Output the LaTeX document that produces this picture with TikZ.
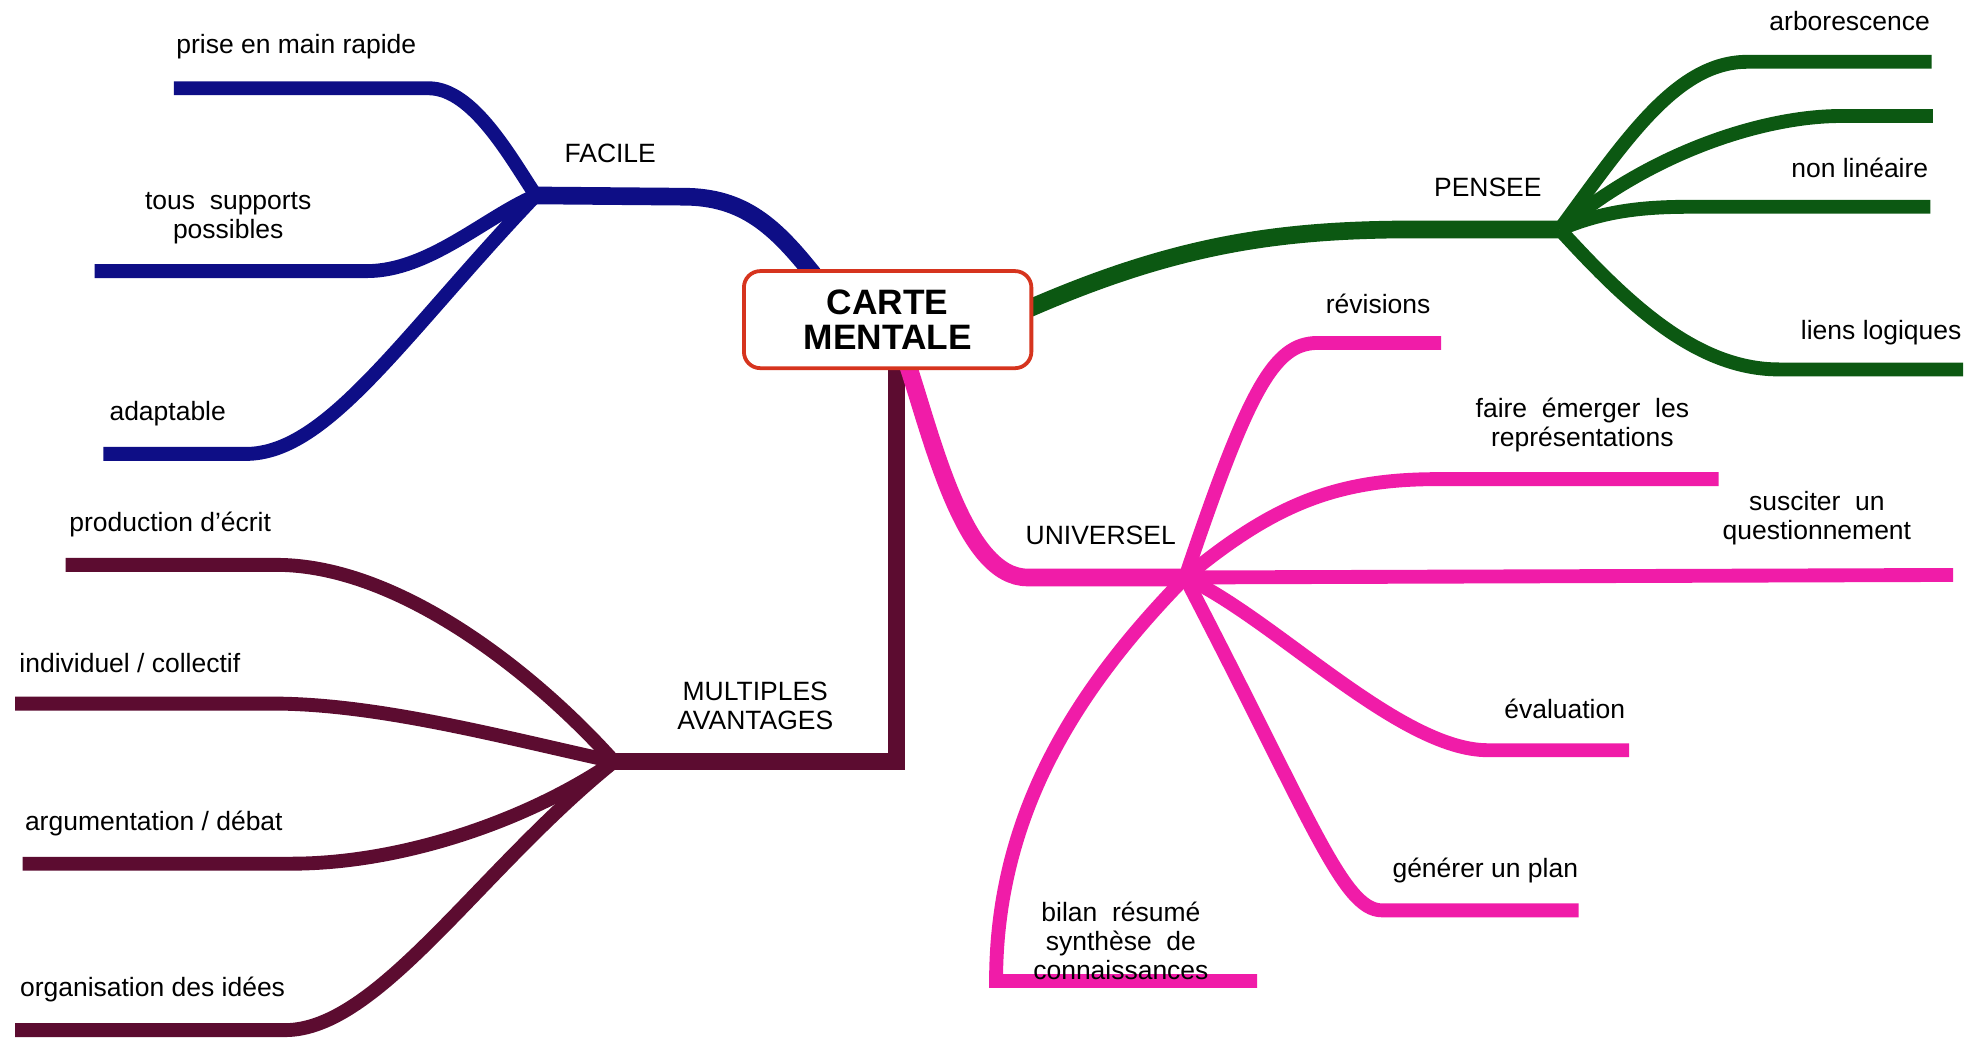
\documentclass[tikz,border=0pt]{standalone}
\usepackage{fontspec}
\setmainfont{Liberation Sans}
\usetikzlibrary{backgrounds,calc}
\definecolor{cnavy}{RGB}{14,14,134}
\definecolor{cgreen}{RGB}{12,88,18}
\definecolor{cpink}{RGB}{240,28,168}
\definecolor{cmaroon}{RGB}{92,12,48}
\definecolor{cred}{RGB}{214,52,30}
\begin{document}
\begin{tikzpicture}[x=1pt,y=-1pt,
  lbl/.style={font=\fontsize{21}{23}\selectfont, align=center, inner sep=0pt},
  centerbox/.style={draw=cred, line width=3pt, fill=white, rounded corners=13pt,
    minimum width=228pt, minimum height=77pt, align=center, inner sep=0pt,
    font=\fontsize{28}{28}\selectfont\bfseries},
  sub/.style={line width=11pt},
  mainbr/.style={line width=14pt}]
\useasboundingbox (0,0) rectangle (1568,823);

\node[centerbox] (C) at (704,253.5) {CARTE\\MENTALE};

% labels
\node[lbl] (lFacile) at (484,122) {FACILE};
\node[lbl] (lPrise) at (235,37) {prise en main rapide};
\node[lbl] (lTous) at (181,173) {tous~ supports\\possibles};
\node[lbl] (lAdapt) at (133,328) {adaptable};

\node[lbl] (lPensee) at (1180,149) {PENSEE};
\node[lbl] (lArbo) at (1467,17) {arborescence};
\node[lbl] (lNonLin) at (1475,133) {non linéaire};
\node[lbl] (lLiens) at (1492,264) {liens logiques};

\node[lbl] (lUniv) at (873,425) {UNIVERSEL};
\node[lbl] (lRev) at (1093,241) {révisions};
\node[lbl] (lFaire) at (1255,337) {faire~ émerger~ les\\représentations};
\node[lbl] (lSusc) at (1441,411) {susciter~ un\\questionnement};
\node[lbl] (lEval) at (1241,562) {évaluation};
\node[lbl] (lGen) at (1178,690) {générer un plan};
\node[lbl] (lBilan) at (889,746) {bilan~ résumé\\synthèse~ de\\connaissances};

\node[lbl] (lMult) at (599,560) {MULTIPLES\\AVANTAGES};
\node[lbl] (lProd) at (135,416) {production d{\char"0027}écrit};
\node[lbl] (lIndiv) at (103,526) {individuel / collectif};
\node[lbl] (lArg) at (122,653) {argumentation / débat};
\node[lbl] (lOrg) at (121,785) {organisation des idées};

\begin{scope}[on background layer]
\fill[white] (0,0) rectangle (1568,823);
% hubs and ends
\coordinate (hF) at (425,155);
\coordinate (hP) at (1237,182);
\coordinate (hU) at (940,458);
\coordinate (hM) at (487,604);

\coordinate (eF1) at (138,70);
\coordinate (eF2) at (75,215);
\coordinate (eF3) at (82,360);
\coordinate (eP1) at (1532,49);
\coordinate (eP2) at (1533,92);
\coordinate (eP3) at (1531,164);
\coordinate (eP4) at (1557,293);
\coordinate (eU1) at (1143,272);
\coordinate (eU2) at (1363,380);
\coordinate (eU3) at (1549,456);
\coordinate (eU4) at (1292,595);
\coordinate (eU5) at (1252,722);
\coordinate (eU6) at (997,778);
\coordinate (eM1) at (52,448);
\coordinate (eM2) at (12,558);
\coordinate (eM3) at (18,685);
\coordinate (eM4) at (12,817);

% FACILE
\begin{scope}[draw=cnavy]
\draw[mainbr] ([xshift=-59pt,yshift=-4pt]C.north) .. controls (615,180) and (590,156) .. (542,156) -- (hF);
\draw[sub] (hF) .. controls (405,125) and (375,70) .. (340,70) -- (eF1);
\draw[sub] (hF) .. controls (385,172) and (340,215) .. (291,215) -- (eF2);
\draw[sub] (hF) .. controls (320,265) and (260,360) .. (195,360) -- (eF3);
\end{scope}

% PENSEE
\begin{scope}[draw=cgreen]
\draw[mainbr] ([xshift=-4pt,yshift=8.5pt]C.east) .. controls (930,195) and (1010,183) .. (1110,182) -- (hP);
\draw[sub] (hP) .. controls (1290,110) and (1330,49) .. (1386,49) -- (eP1);
\draw[sub] (hP) .. controls (1310,120) and (1400,92) .. (1460,92) -- (eP2);
\draw[sub] (hP) .. controls (1270,168) and (1300,164) .. (1340,164) -- (eP3);
\draw[sub] (hP) .. controls (1290,240) and (1345,293) .. (1411,293) -- (eP4);
\end{scope}

% MULTIPLES AVANTAGES
\begin{scope}[draw=cmaroon]
\draw[mainbr] ([xshift=7pt,yshift=4pt]C.south) |- (hM);
\draw[sub] (hM) .. controls (430,540) and (320,448) .. (219,448) -- (eM1);
\draw[sub] (hM) .. controls (400,585) and (300,558) .. (216,558) -- (eM2);
\draw[sub] (hM) .. controls (420,650) and (320,685) .. (231,685) -- (eM3);
\draw[sub] (hM) .. controls (380,690) and (300,817) .. (226,817) -- (eM4);
\end{scope}

% UNIVERSEL
\begin{scope}[draw=cpink]
\draw[mainbr] ([xshift=16pt,yshift=4pt]C.south) .. controls (740,350) and (765,458) .. (815,458) -- (hU);
\draw[sub] (hU) .. controls (990,310) and (1010,272) .. (1045,272) -- (eU1);
\draw[sub] (hU) .. controls (1010,400) and (1060,380) .. (1140,380) -- (eU2);
\draw[sub] (hU) -- (eU3);
\draw[sub] (hU) .. controls (1010,490) and (1110,595) .. (1180,595) -- (eU4);
\draw[sub] (hU) .. controls (1040,650) and (1065,722) .. (1096,722) -- (eU5);
\draw[sub] (hU) .. controls (860,540) and (790,640) .. (790,778) -- (eU6);
\end{scope}
\end{scope}
\end{tikzpicture}
\end{document}
